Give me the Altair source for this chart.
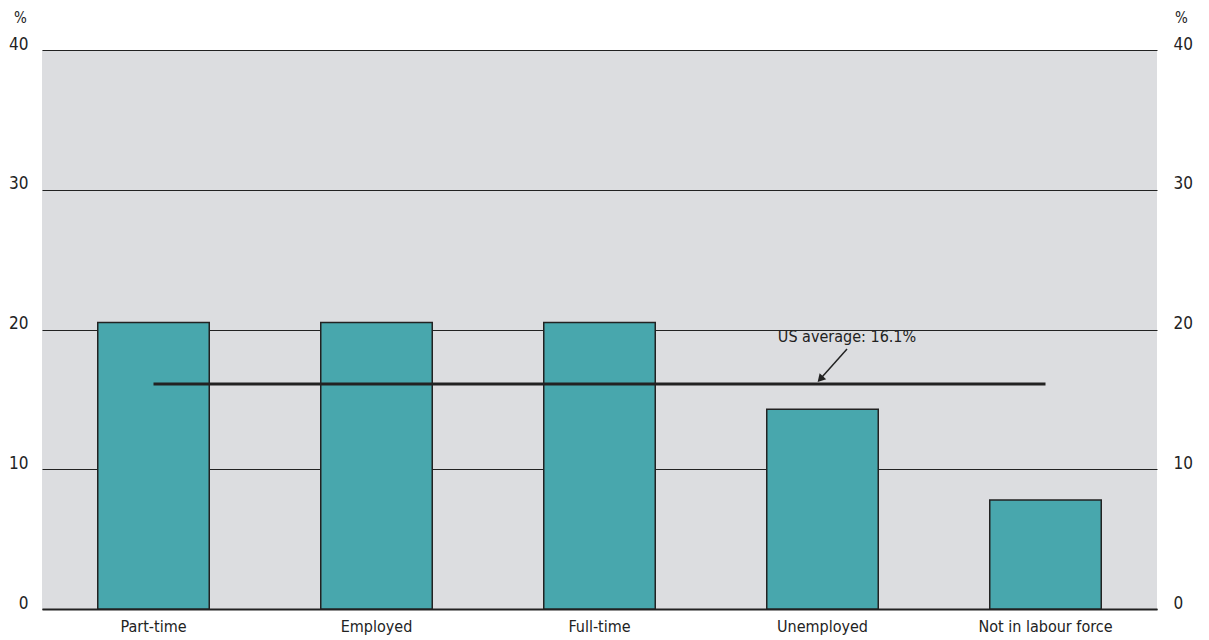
import altair as alt
import pandas as pd

categories = ["Part-time", "Employed", "Full-time", "Unemployed", "Not in labour force"]
values = [20.5, 20.5, 20.5, 14.3, 7.8]
us_average = 16.1
avg_label = "US average: 16.1%"
y_ticks = [0, 10, 20, 30, 40]

FONT = "Liberation Sans Narrow, DejaVu Sans Condensed, Roboto, sans-serif"

bars_df = pd.DataFrame({"cat": categories, "val": values})
avg_df = pd.DataFrame({"x1": [categories[0]], "x2": [categories[-1]], "y": [us_average]})
# annotation in a 0..5 continuous band coordinate
arrow_df = pd.DataFrame({"ax": [3.61], "ay": [18.6], "bx": [3.49], "by": [16.45]})
head_df = pd.DataFrame({"ax": [3.49], "ay": [16.45]})
label_df = pd.DataFrame({"ax": [3.61], "ay": [18.9], "t": [avg_label]})

yscale = alt.Scale(domain=[0, 40], nice=False)
xscale = alt.Scale(domain=categories, paddingInner=0.5, paddingOuter=0.25)
qx = alt.Scale(domain=[0, 5], nice=False, zero=False)

left_axis = alt.Axis(values=y_ticks, grid=True, gridColor="#222", gridWidth=1, gridOpacity=1,
                     ticks=False, domain=False, labelPadding=14, labelFontSize=17,
                     labelFont=FONT, labelColor="#222", labelBaseline="middle", labelOffset=-6,
                     title="%", titleAngle=0, titleX=-22, titleY=-33, titleAlign="center",
                     titleBaseline="middle", titleFont=FONT, titleFontSize=15,
                     titleFontWeight="normal", titleColor="#222")
right_axis = alt.Axis(orient="right", values=y_ticks, grid=False, ticks=False, domain=False,
                      labelPadding=16, labelFontSize=17, labelFont=FONT, labelColor="#222",
                      labelBaseline="middle", labelOffset=-6,
                      title="%", titleAngle=0, titleX=24, titleY=-33, titleAlign="center",
                      titleBaseline="middle", titleFont=FONT, titleFontSize=15,
                      titleFontWeight="normal", titleColor="#222")

bars = alt.Chart(bars_df).mark_bar(color="#48a7ad", stroke="#222", strokeWidth=1.5).encode(
    x=alt.X("cat:N", scale=xscale, sort=categories,
            axis=alt.Axis(title=None, labelAngle=0, ticks=False, domain=True, domainColor="#222",
                          domainWidth=2, labelPadding=9, labelFontSize=16, labelFont=FONT,
                          labelColor="#222")),
    y=alt.Y("val:Q", scale=yscale, axis=left_axis),
)

avg = alt.Chart(avg_df).mark_rule(color="#222", strokeWidth=3).encode(
    x=alt.X("x1:N", scale=xscale, sort=categories, bandPosition=0.5),
    x2="x2:N",
    y=alt.Y("y:Q", scale=yscale),
)

main = alt.layer(bars, avg)

right = alt.Chart(bars_df).mark_bar(opacity=0).encode(
    x=alt.X("cat:N", scale=xscale, sort=categories, axis=None),
    y=alt.Y("val:Q", scale=yscale, axis=right_axis),
)

arrow = alt.Chart(arrow_df).mark_rule(color="#222", strokeWidth=1.5).encode(
    x=alt.X("ax:Q", scale=qx, axis=None), x2="bx:Q",
    y=alt.Y("ay:Q", scale=yscale, axis=None), y2="by:Q",
)
head = alt.Chart(head_df).mark_point(shape="triangle-up", filled=True, color="#222", size=80,
                                     angle=223, opacity=1).encode(
    x=alt.X("ax:Q", scale=qx, axis=None),
    y=alt.Y("ay:Q", scale=yscale, axis=None),
)
label = alt.Chart(label_df).mark_text(font=FONT, fontSize=16, color="#222", align="center",
                                      baseline="bottom").encode(
    x=alt.X("ax:Q", scale=qx, axis=None),
    y=alt.Y("ay:Q", scale=yscale, axis=None),
    text="t:N",
)
annot = alt.layer(arrow, head, label)

chart = alt.layer(main, right, annot).resolve_scale(x="independent", y="independent").properties(
    width=1115, height=559,
    autosize=alt.AutoSizeParams(type="none"),
    padding={"left": 34, "top": 42, "right": 44, "bottom": 30},
    background="white",
).configure_view(fill="#dcdde0", stroke=None).configure_axis(labelFontWeight="normal")

chart.save("out.html", embed_options={"renderer": "svg", "actions": False})
